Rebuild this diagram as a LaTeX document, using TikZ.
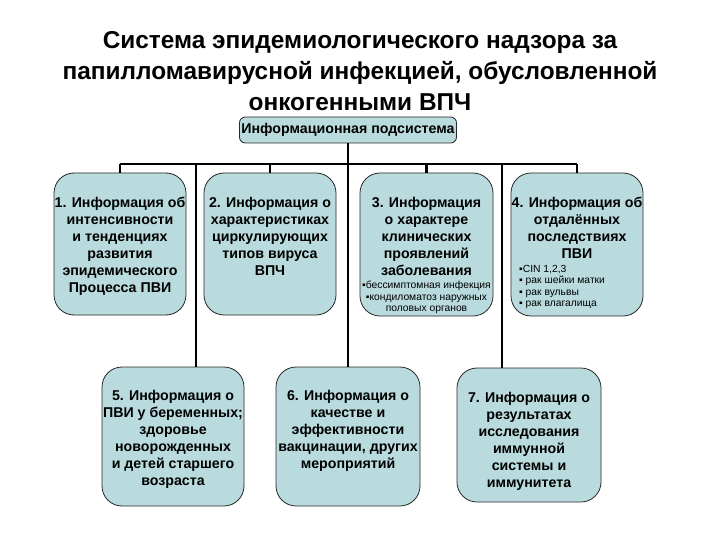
\documentclass[tikz,border=0pt]{standalone}
\usepackage{fontspec}
\setmainfont{Liberation Sans}
\definecolor{boxfill}{RGB}{185,219,222}
\definecolor{boxline}{RGB}{40,40,40}
\tikzset{
  bigbox/.style={draw=boxline, line width=0.8pt, fill=boxfill, rounded corners=20pt, inner sep=0pt},
  topbox/.style={draw=boxline, line width=0.8pt, fill=boxfill, rounded corners=6pt, inner sep=2pt,
     font=\fontsize{14.2}{16}\selectfont\bfseries},
  maintxt/.style={align=center, inner sep=0pt, font=\fontsize{14.2}{17}\selectfont\bfseries},
  smalltxt/.style={align=center, inner sep=0pt, font=\fontsize{10.3}{11.5}\selectfont},
  conn/.style={line width=2.6pt, black},
}
\begin{document}
\begin{tikzpicture}[x=1pt,y=-1pt]
\useasboundingbox (0,0) rectangle (720,540);
\fill[white] (0,0) rectangle (720,540);

\node[align=center, font=\fontsize{24.4}{31}\selectfont\bfseries] (title) at (360,71)
  {Система эпидемиологического надзора за\\папилломавирусной инфекцией, обусловленной\\онкогенными ВПЧ};

% boxes
\node[bigbox, minimum width=132pt, minimum height=142pt] (b1) at (120,244) {};
\node[bigbox, minimum width=132pt, minimum height=142pt] (b2) at (270,244) {};
\node[bigbox, minimum width=133pt, minimum height=143pt] (b3) at (426.5,244.5) {};
\node[bigbox, minimum width=132pt, minimum height=143pt] (b4) at (577,244.5) {};
\node[bigbox, minimum width=142pt, minimum height=139pt] (b5) at (173,436.5) {};
\node[bigbox, minimum width=144pt, minimum height=139pt] (b6) at (348,436.5) {};
\node[bigbox, minimum width=144pt, minimum height=134pt] (b7) at (529,435) {};

\node[topbox, minimum width=216pt, minimum height=26pt] (top) at (348,130) {Информационная подсистема};

% connectors
\coordinate (busL) at (120,164);
\coordinate (busR) at (577,164);
\coordinate (j5) at (196,164);
\coordinate (j7) at (502,164);
\draw[conn] (busL) -- (busR);
\draw[conn] (top.south) -- (b6.north);
\draw[conn] (busL) -- (b1.north);
\draw[conn] (b2.north |- busL) -- (b2.north);
\draw[conn] (b3.north |- busL) -- (b3.north);
\draw[conn] (busR) -- (b4.north);
\draw[conn] (j5) -- (j5 |- b5.north);
\draw[conn] (j7) -- (j7 |- b7.north);

% texts
\node[maintxt, anchor=north] (t1) at ([yshift=-24pt]b1.north)
  {1. Информация об\\интенсивности\\и тенденциях\\развития\\эпидемического\\Процесса ПВИ};
\node[maintxt, anchor=north] (t2) at ([yshift=-24pt]b2.north)
  {2. Информация о\\характеристиках\\циркулирующих\\типов вируса\\ВПЧ};
\node[maintxt, anchor=north] (t3) at ([yshift=-24pt]b3.north)
  {3. Информация\\о характере\\клинических\\проявлений\\заболевания};
\node[smalltxt, anchor=north] (t3b) at (426.5,281)
  {▪бессимптомная инфекция\\▪кондиломатоз наружных\\половых органов};
\node[maintxt, anchor=north] (t4) at ([yshift=-24pt]b4.north)
  {4. Информация об\\отдалённых\\последствиях\\ПВИ};
\node[smalltxt, align=left, anchor=north west] (t4b) at (519,265)
  {▪CIN 1,2,3\\▪ рак шейки матки\\▪ рак вульвы\\▪ рак влагалища};
\node[maintxt, anchor=north] (t5) at ([yshift=-23pt]b5.north)
  {5. Информация о\\ПВИ у беременных;\\здоровье\\новорожденных\\и детей старшего\\возраста};
\node[maintxt, anchor=north] (t6) at ([yshift=-23pt]b6.north)
  {6. Информация о\\качестве и\\эффективности\\вакцинации, других\\мероприятий};
\node[maintxt, anchor=north] (t7) at ([yshift=-24pt]b7.north)
  {7. Информация о\\результатах\\исследования\\иммунной\\системы и\\иммунитета};
\end{tikzpicture}
\end{document}
